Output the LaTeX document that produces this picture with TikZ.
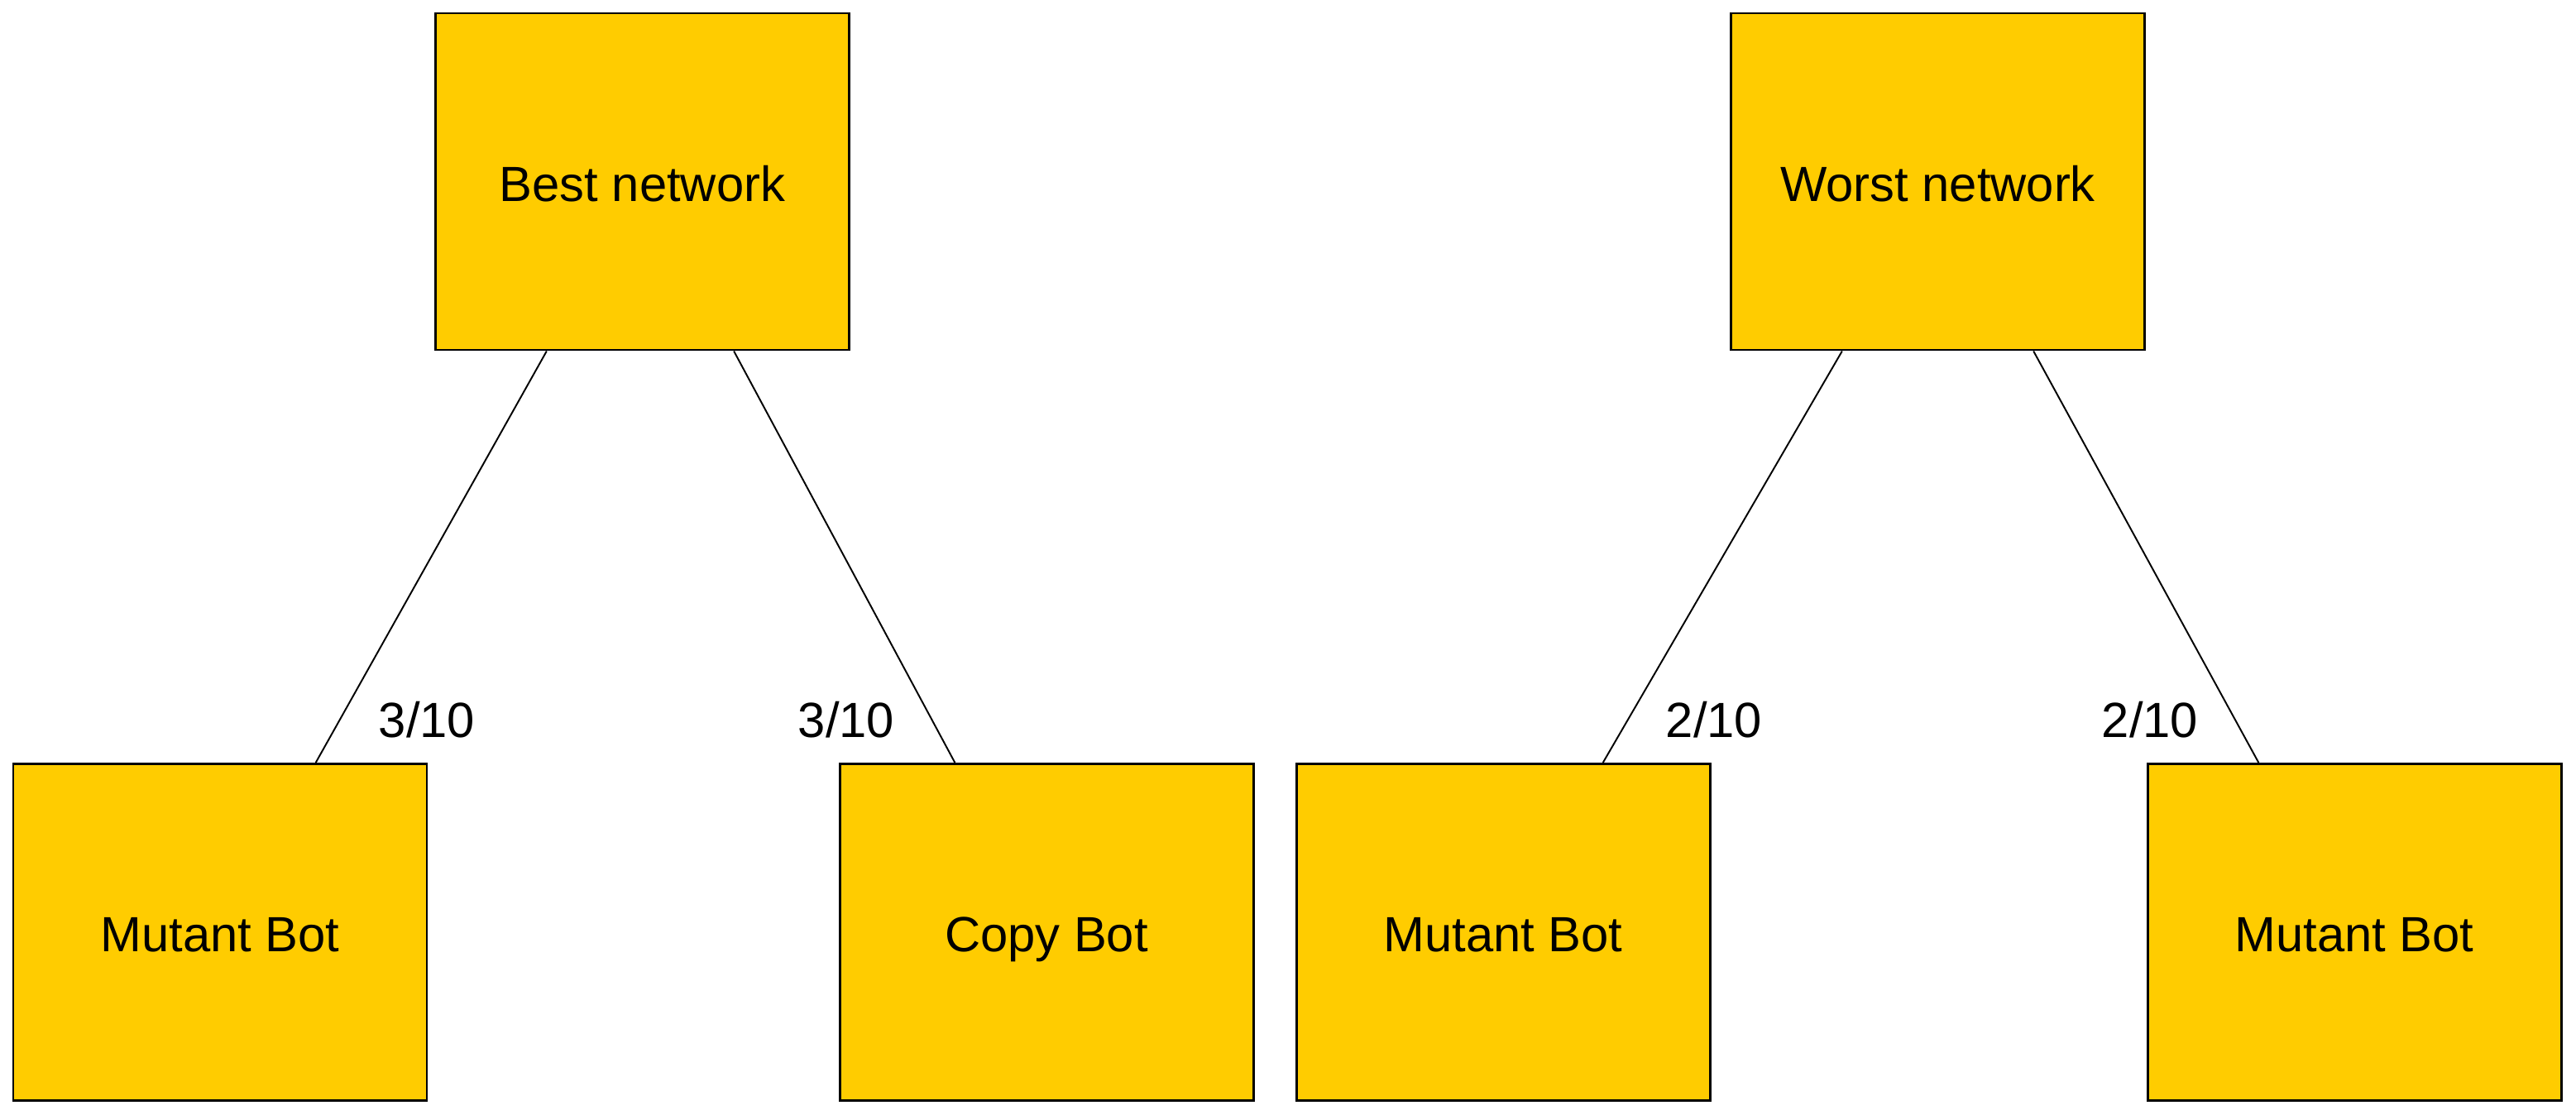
\documentclass[tikz,border=0pt]{standalone}
\usepackage{fontspec}
\setmainfont{Liberation Sans}
\usetikzlibrary{calc}
\definecolor{botyellow}{HTML}{FFCC00}

\begin{document}
\begin{tikzpicture}[
  netbox/.style={draw, line width=0.85pt, rectangle, fill=botyellow, minimum width=5.0cm, minimum height=4.07cm, inner sep=0pt, text height=13.4pt, text depth=0pt, font=\fontsize{17}{20}\selectfont},
  ratio/.style={font=\fontsize{17}{20}\selectfont, inner sep=0pt},
  link/.style={line width=0.55pt}
]
\useasboundingbox (0,0) rectangle (31.14,13.47);

\node[netbox] (best) at (7.765, 11.275) {Best network};
\node[netbox] (worst) at (23.425, 11.275) {Worst network};

\node[netbox] (mutant_a) at (2.66, 2.2) {Mutant Bot};
\node[netbox] (copy) at (12.65, 2.2) {Copy Bot};
\node[netbox] (mutant_b) at (18.17, 2.2) {Mutant Bot};
\node[netbox] (mutant_c) at (28.46, 2.2) {Mutant Bot};

\draw[link] ($(best.south west)!0.27!(best.south east)$) -- ($(mutant_a.north west)!0.73!(mutant_a.north east)$);
\draw[link] ($(best.south west)!0.72!(best.south east)$) -- ($(copy.north west)!0.28!(copy.north east)$);
\draw[link] ($(worst.south west)!0.27!(worst.south east)$) -- ($(mutant_b.north west)!0.74!(mutant_b.north east)$);
\draw[link] ($(worst.south west)!0.73!(worst.south east)$) -- ($(mutant_c.north west)!0.27!(mutant_c.north east)$);

\node[ratio] (r1) at (5.16, 4.77) {3/10};
\node[ratio] (r2) at (10.23, 4.77) {3/10};
\node[ratio] (r3) at (20.72, 4.77) {2/10};
\node[ratio] (r4) at (25.99, 4.77) {2/10};

\end{tikzpicture}
\end{document}
